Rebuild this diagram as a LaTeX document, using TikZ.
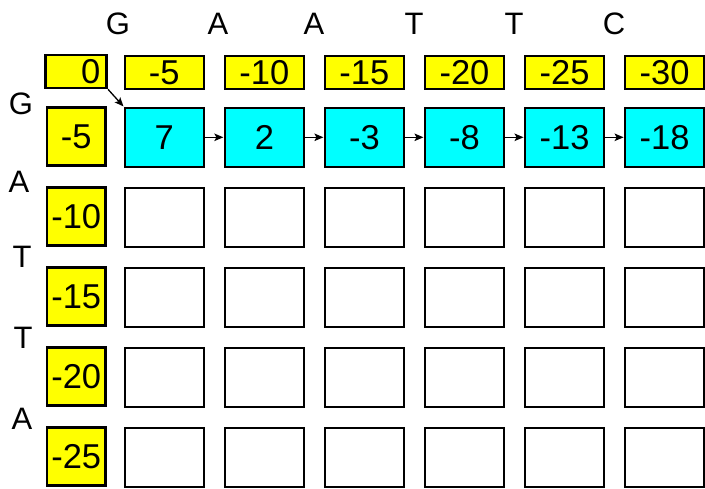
\documentclass[tikz,border=0pt]{standalone}
\usepackage{fontspec}
\setmainfont{Liberation Sans}
\usetikzlibrary{arrows.meta}
\definecolor{cellyellow}{RGB}{255,255,0}
\definecolor{cellcyan}{RGB}{0,255,255}
\begin{document}
\begin{tikzpicture}[x=1pt,y=-1pt,
  numfont/.style={font=\fontsize{34.5}{38}\selectfont},
  letfont/.style={font=\fontsize{31}{34}\selectfont, inner sep=0pt},
  base/.style={draw=black, inner sep=0pt, numfont},
  topbox/.style={base, fill=cellyellow, line width=1.7pt, minimum width=79pt, minimum height=33.5pt},
  cornerbox/.style={base, fill=cellyellow, line width=2.7pt, minimum height=33pt, inner xsep=6.5pt, text width=48pt, align=right},
  leftbox/.style={base, fill=cellyellow, line width=2.7pt, minimum width=58.5pt, minimum height=58.5pt},
  cellbox/.style={base, fill=white, line width=2pt, minimum width=79pt, minimum height=59pt},
  scorebox/.style={cellbox, fill=cellcyan},
  arr/.style={draw=black, line width=1.3pt, -{Stealth[length=9pt,width=7.5pt,inset=2pt]}, shorten >=0.5pt}
]
\useasboundingbox (0,0) rectangle (705,488);

% corner
\node[cornerbox] (t0) at (76.2,71.5) {0};

% top row
\foreach \v [count=\i] in {-5,-10,-15,-20,-25,-30}{
  \node[topbox] (t\i) at ({164.3+100.06*(\i-1)},72.5) {\v};
}

% left column
\foreach \v [count=\j] in {-5,-10,-15,-20,-25}{
  \node[leftbox] (l\j) at (76.2,{136.5+80*(\j-1)}) {\v};
}

% score row
\foreach \v [count=\i] in {7,2,-3,-8,-13,-18}{
  \node[scorebox] (c1\i) at ({164.3+100.06*(\i-1)},137.3) {\v};
}

% empty cells
\foreach \j in {2,...,5}{
  \foreach \i in {1,...,6}{
    \node[cellbox] (c\j\i) at ({164.3+100.06*(\i-1)},{137+80*(\j-1)}) {};
  }
}

% sequence letters (top)
\foreach \s/\x [count=\i] in {G/118,A/218,A/314,T/414,T/514,C/614}{
  \node[letfont] (s\i) at (\x,23.5) {\s};
}
% sequence letters (left)
\node[letfont] (q1) at (21,104) {G};
\node[letfont] (q2) at (19,182) {A};
\node[letfont] (q3) at (22,257) {T};
\node[letfont] (q4) at (23,337.5) {T};
\node[letfont] (q5) at (22,419) {A};

% arrows
\draw[arr] (t0.south east) -- (c11.north west);
\foreach \i/\k in {1/2,2/3,3/4,4/5,5/6}{
  \draw[arr] (c1\i.east) -- (c1\k.west);
}
\end{tikzpicture}
\end{document}
